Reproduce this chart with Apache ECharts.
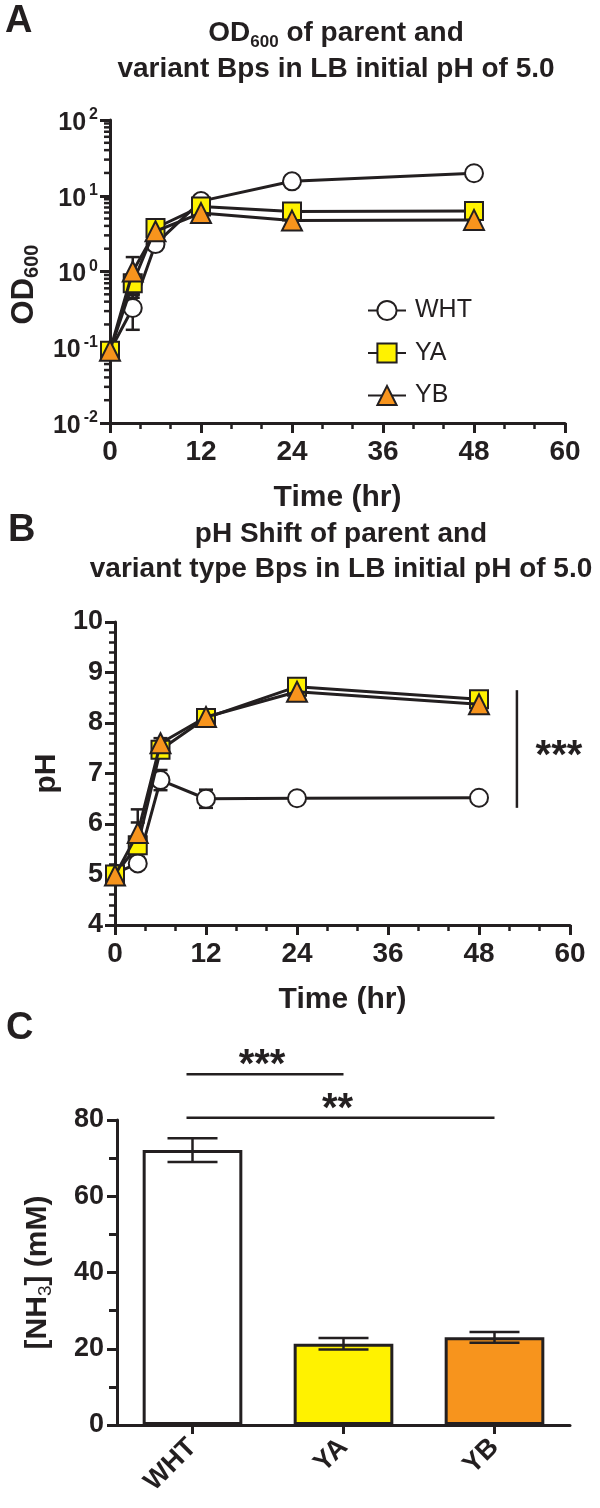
<!DOCTYPE html>
<html><head><meta charset="utf-8">
<script src="https://cdn.jsdelivr.net/npm/echarts@6/dist/echarts.min.js"></script>
<style>html,body{margin:0;padding:0;background:#fff}#c{width:600px;height:1508px}</style>
</head><body><div id="c"></div>
<script>
// ---------- data ----------
const timePoints = [0, 3, 6, 12, 24, 48];
const seriesNames = ['WHT', 'YA', 'YB'];
// Panel A: OD600 (log scale)
const odWHT = [0.09, 0.33, 2.3, 8.5, 15.5, 19.8];
const odYA  = [0.09, 0.70, 3.75, 7.2, 6.2, 6.3];
const odYB  = [0.09, 1.0, 3.4, 5.9, 4.7, 4.8];
const odErrWHT = [0.01, 0.16, 0.3, 0.6, 1.0, 1.0];
const odErrYA  = [0.01, 0.2, 0.4, 0.5, 0.4, 0.4];
const odErrYB  = [0.01, 0.55, 0.4, 0.4, 0.3, 0.3];
// Panel B: pH
const phWHT = [5.02, 5.22, 6.87, 6.5, 6.51, 6.52];
const phYA  = [5.0, 5.58, 7.47, 8.1, 8.72, 8.47];
const phYB  = [4.98, 5.82, 7.6, 8.12, 8.62, 8.37];
const phErrWHT = [0.03, 0.06, 0.2, 0.18, 0.04, 0.05];
const phErrYA  = [0.03, 0.45, 0.1, 0.08, 0.06, 0.06];
const phErrYB  = [0.03, 0.47, 0.1, 0.08, 0.06, 0.06];
const phSigX = 53;
const phSigRange = [6.32, 8.65];
const phSigLabel = '***';
// Panel C: NH3
const nh3Categories = ['WHT', 'YA', 'YB'];
const nh3Values = [72.1, 21.3, 23.0];
const nh3Err = [3.1, 1.5, 1.4];
const nh3SigFrom = [0, 0];
const nh3SigTo = [1, 2];
const nh3SigLevel = [92, 80.6];
const nh3SigLabel = ['***', '**'];
// ticks
const timeTicks = [0, 12, 24, 36, 48, 60];
const odRange = [0.01, 100];
const odMinorMultipliers = [2, 3, 4, 5, 6, 7, 8, 9];
const odMinorDecades = [0.01, 0.1, 1, 10];
const phRange = [4, 10];
const nh3Range = [0, 80];

// ---------- styling ----------
const INK = '#231f20';
const FONT = 'Liberation Sans, Arial, sans-serif';
const fills = ['#ffffff', '#fff200', '#f7941d'];
const symbols = ['circle', 'rect', 'triangle'];
const symbolSizes = [18, 18, 20];

function errRender(capHalf) {
  return function (params, api) {
    const x = api.value(0), lo = api.value(2), hi = api.value(3);
    const pLo = api.coord([x, lo]), pHi = api.coord([x, hi]);
    const style = { stroke: INK, lineWidth: 2.5 };
    return { type: 'group', children: [
      { type: 'line', shape: { x1: pLo[0], y1: pLo[1], x2: pHi[0], y2: pHi[1] }, style },
      { type: 'line', shape: { x1: pLo[0] - capHalf, y1: pLo[1], x2: pLo[0] + capHalf, y2: pLo[1] }, style },
      { type: 'line', shape: { x1: pHi[0] - capHalf, y1: pHi[1], x2: pHi[0] + capHalf, y2: pHi[1] }, style }
    ]};
  };
}
function errData(xs, vals, errs) {
  return vals.map((v, i) => [xs[i], v, v - errs[i], v + errs[i]]);
}
function pairs(xs, vals) { return vals.map((v, i) => [xs[i], v]); }

function timeAxis(gridIndex) {
  return {
    type: 'value', gridIndex, min: timeTicks[0], max: timeTicks[timeTicks.length - 1], interval: 12,
    name: 'Time (hr)', nameLocation: 'middle', nameGap: 60,
    nameTextStyle: { fontFamily: FONT, fontSize: 30, fontWeight: 'bold', color: INK },
    axisLine: { show: true, lineStyle: { color: INK, width: 3 } },
    axisTick: { show: true, length: 10, lineStyle: { color: INK, width: 3 } },
    minorTick: { show: true, splitNumber: 3, length: 6, lineStyle: { color: INK, width: 2.5 } },
    axisLabel: { fontFamily: FONT, fontSize: 28, fontWeight: 'bold', color: INK, margin: 15 },
    splitLine: { show: false }
  };
}

const odSets = [odWHT, odYA, odYB];
const odErrs = [odErrWHT, odErrYA, odErrYB];
const phSets = [phWHT, phYA, phYB];
const phErrs = [phErrWHT, phErrYA, phErrYB];

const series = [];
// error bars (behind)
[0, 1, 2].forEach(i => {
  series.push({ type: 'custom', xAxisIndex: 0, yAxisIndex: 0, z: 1, silent: true, clip: false,
    renderItem: errRender(7), encode: { x: 0, y: [1, 2, 3] }, data: errData(timePoints, odSets[i], odErrs[i]) });
  series.push({ type: 'custom', xAxisIndex: 1, yAxisIndex: 1, z: 1, silent: true, clip: false,
    renderItem: errRender(7), encode: { x: 0, y: [1, 2, 3] }, data: errData(timePoints, phSets[i], phErrs[i]) });
});
// log minor ticks on panel A y-axis
const odMinor = [];
odMinorDecades.forEach(d => odMinorMultipliers.forEach(m => odMinor.push([0, m * d])));
series.push({ type: 'custom', xAxisIndex: 0, yAxisIndex: 0, z: 3, silent: true, clip: false,
  encode: { x: 0, y: 1 }, data: odMinor,
  renderItem: function (params, api) {
    const p = api.coord([api.value(0), api.value(1)]);
    return { type: 'line', shape: { x1: p[0] - 6, y1: p[1], x2: p[0], y2: p[1] }, style: { stroke: INK, lineWidth: 2.5 } };
  } });
// lines
[0, 1, 2].forEach(i => {
  const common = {
    type: 'line', symbol: symbols[i], symbolSize: symbolSizes[i], z: 5 + i,
    itemStyle: { color: fills[i], borderColor: INK, borderWidth: 2 },
    lineStyle: { color: INK, width: 3 }, emphasis: { disabled: true }, animation: false
  };
  series.push(Object.assign({}, common, { name: seriesNames[i], xAxisIndex: 0, yAxisIndex: 0, data: pairs(timePoints, odSets[i]) }));
  series.push(Object.assign({}, common, { name: seriesNames[i] + ' pH', xAxisIndex: 1, yAxisIndex: 1, data: pairs(timePoints, phSets[i]) }));
});
// bars
series.push({
  type: 'bar', xAxisIndex: 2, yAxisIndex: 2, barWidth: '66%', z: 2,
  data: nh3Values.map((v, i) => ({ value: v, itemStyle: { color: fills[i], borderColor: INK, borderWidth: 3 } })),
  emphasis: { disabled: true }
});
series.push({ type: 'custom', xAxisIndex: 2, yAxisIndex: 2, z: 4, silent: true, clip: false,
  renderItem: errRender(25), encode: { x: 0, y: [1, 2, 3] },
  data: nh3Values.map((v, i) => [i, v, v - nh3Err[i], v + nh3Err[i]]) });

const option = {
  animation: false,
  backgroundColor: '#ffffff',
  title: [
    { text: '{a|OD}{s|600}{a| of parent and}\n{a|variant Bps in LB initial pH of 5.0}',
      left: 331, top: 10, textAlign: 'center',
      textStyle: { rich: {
        a: { fontFamily: FONT, fontSize: 28, fontWeight: 'bold', color: INK, lineHeight: 36 },
        s: { fontFamily: FONT, fontSize: 17, fontWeight: 'bold', color: INK, lineHeight: 17, verticalAlign: 'bottom' } } } },
    { text: '{a|pH Shift of parent and}\n{a|variant type Bps in LB initial pH of 5.0}',
      left: 336, top: 512, textAlign: 'center',
      textStyle: { rich: { a: { fontFamily: FONT, fontSize: 28, fontWeight: 'bold', color: INK, lineHeight: 35 } } } }
  ],
  legend: {
    data: seriesNames, orient: 'vertical', left: 362, top: 293,
    itemWidth: 38, itemHeight: 24, itemGap: 17.5,
    textStyle: { fontFamily: FONT, fontSize: 25, color: INK, lineHeight: 24, padding: [0, 0, 0, 4] },
    selectedMode: false
  },
  grid: [
    { left: 110, top: 120, width: 455, height: 303 },
    { left: 115, top: 622, width: 455, height: 303 },
    { left: 117, top: 1120, width: 453, height: 305 }
  ],
  xAxis: [
    timeAxis(0),
    timeAxis(1),
    { type: 'category', gridIndex: 2, data: nh3Categories,
      axisLine: { show: true, lineStyle: { color: INK, width: 3 } },
      axisTick: { show: true, alignWithLabel: true, length: 9, lineStyle: { color: INK, width: 3 } },
      axisLabel: { fontFamily: FONT, fontSize: 27, fontWeight: 'bold', color: INK, rotate: 45, margin: 18 } }
  ],
  yAxis: [
    { type: 'log', logBase: 10, gridIndex: 0, min: odRange[0], max: odRange[1],
      name: '{a|OD}{s|600}', nameLocation: 'middle', nameGap: 68, nameRotate: 90,
      nameTextStyle: { padding: [0, 26, 0, 0], rich: {
        a: { fontFamily: FONT, fontSize: 31, fontWeight: 'bold', color: INK, lineHeight: 36 },
        s: { fontFamily: FONT, fontSize: 20, fontWeight: 'bold', color: INK, lineHeight: 20, verticalAlign: 'bottom' } } },
      axisLine: { show: true, lineStyle: { color: INK, width: 3 } },
      axisTick: { show: true, length: 10, lineStyle: { color: INK, width: 3 } },
      axisLabel: { margin: 12, formatter: v => '{b|10}{s|' + Math.round(Math.log10(v)) + '}',
        rich: { b: { fontFamily: FONT, fontSize: 25, fontWeight: 'bold', color: INK, lineHeight: 26, padding: [6, 0, 0, 0] },
                s: { fontFamily: FONT, fontSize: 16, fontWeight: 'bold', color: INK, lineHeight: 16, verticalAlign: 'top', padding: [0, 0, 0, 3] } } },
      splitLine: { show: false } },
    { type: 'value', gridIndex: 1, min: phRange[0], max: phRange[1], interval: 1,
      name: 'pH', nameLocation: 'middle', nameGap: 52, nameRotate: 90,
      nameTextStyle: { fontFamily: FONT, fontSize: 30, fontWeight: 'bold', color: INK },
      axisLine: { show: true, lineStyle: { color: INK, width: 3 } },
      axisTick: { show: true, length: 10, lineStyle: { color: INK, width: 3 } },
      minorTick: { show: true, splitNumber: 5, length: 6, lineStyle: { color: INK, width: 2.5 } },
      axisLabel: { fontFamily: FONT, fontSize: 27, fontWeight: 'bold', color: INK, margin: 12 },
      splitLine: { show: false } },
    { type: 'value', gridIndex: 2, min: nh3Range[0], max: nh3Range[1], interval: 20,
      name: '{a|[NH}{s|3}{a|] (mM)}', nameLocation: 'middle', nameGap: 62, nameRotate: 90,
      nameTextStyle: { rich: {
        a: { fontFamily: FONT, fontSize: 30, fontWeight: 'bold', color: INK, lineHeight: 34 },
        s: { fontFamily: FONT, fontSize: 19, fontWeight: 'normal', color: INK, lineHeight: 19, verticalAlign: 'bottom' } } },
      axisLine: { show: true, lineStyle: { color: INK, width: 3 } },
      axisTick: { show: true, length: 10, lineStyle: { color: INK, width: 3 } },
      minorTick: { show: true, splitNumber: 2, length: 8, lineStyle: { color: INK, width: 3 } },
      axisLabel: { fontFamily: FONT, fontSize: 27, fontWeight: 'bold', color: INK, margin: 13 },
      splitLine: { show: false } }
  ],
  graphic: [
    { type: 'text', left: 5, top: 3, style: { text: 'A', fontFamily: FONT, fontSize: 38, fontWeight: 'bold', fill: INK } },
    { type: 'text', left: 8, top: 512, style: { text: 'B', fontFamily: FONT, fontSize: 38, fontWeight: 'bold', fill: INK } },
    { type: 'text', left: 6, top: 1010, style: { text: 'C', fontFamily: FONT, fontSize: 38, fontWeight: 'bold', fill: INK } }
  ],
  series
};

const chart = echarts.init(document.getElementById('c'), null, { renderer: 'canvas' });
chart.setOption(option);

// significance annotations positioned through the axes
const g = [];
const pA = chart.convertToPixel({ gridIndex: 1 }, [phSigX, phSigRange[0]]);
const pB = chart.convertToPixel({ gridIndex: 1 }, [phSigX, phSigRange[1]]);
g.push({ type: 'line', shape: { x1: pA[0], y1: pA[1], x2: pB[0], y2: pB[1] }, style: { stroke: INK, lineWidth: 2.5 } });
g.push({ type: 'text', x: pA[0] + 42, y: (pA[1] + pB[1]) / 2 + 8,
  style: { text: phSigLabel, fontFamily: FONT, fontSize: 40, fontWeight: 'bold', fill: INK, align: 'center', verticalAlign: 'middle' } });
nh3SigLevel.forEach((lvl, k) => {
  const a = chart.convertToPixel({ gridIndex: 2 }, [nh3SigFrom[k], lvl]);
  const b = chart.convertToPixel({ gridIndex: 2 }, [nh3SigTo[k], lvl]);
  g.push({ type: 'line', shape: { x1: a[0] - 6, y1: a[1], x2: b[0], y2: b[1] }, style: { stroke: INK, lineWidth: 2.5 } });
  g.push({ type: 'text', x: (a[0] + b[0]) / 2 - 6, y: a[1] - 8,
    style: { text: nh3SigLabel[k], fontFamily: FONT, fontSize: 40, fontWeight: 'bold', fill: INK, align: 'center', verticalAlign: 'middle' } });
});
chart.setOption({ graphic: option.graphic.concat(g) });
</script>
</body></html>
